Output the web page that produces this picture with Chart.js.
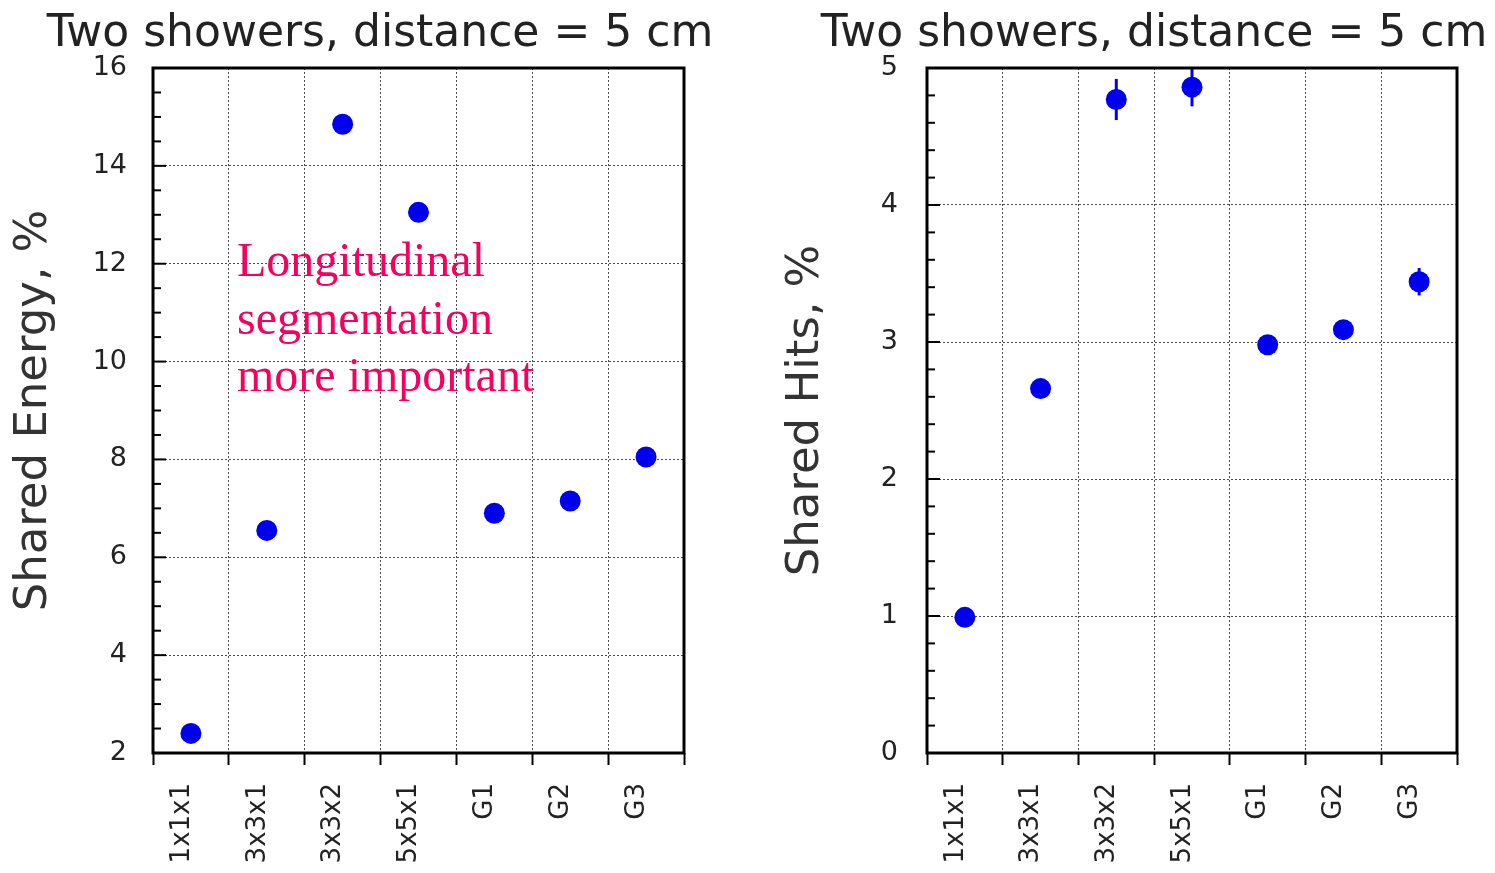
<!DOCTYPE html>
<html>
<head>
<meta charset="utf-8">
<script src="https://cdn.jsdelivr.net/npm/chart.js@4.4.0/dist/chart.umd.min.js"></script>
<style>
  html, body { margin: 0; padding: 0; background: #fff; overflow: hidden; }
  .panel { position: absolute; top: 0; height: 873px; }
  #left { left: 0; width: 760px; }
  #right { left: 775px; width: 758px; }
</style>
</head>
<body>
<div class="panel" id="left"><canvas id="energyChart" width="760" height="873"></canvas></div>
<div class="panel" id="right"><canvas id="hitsChart" width="758" height="873"></canvas></div>
<script>
const CATEGORIES = ['1x1x1', '3x3x1', '3x3x2', '5x5x1', 'G1', 'G2', 'G3']
const SHARED_ENERGY = [2.4, 6.55, 14.85, 13.05, 6.9, 7.15, 8.05]
const SHARED_HITS = [0.99, 2.66, 4.77, 4.86, 2.98, 3.09, 3.44]
const SHARED_HITS_ERR = [0.02, 0.04, 0.15, 0.14, 0.06, 0.06, 0.1]
const ENERGY_TICKS = [2, 4, 6, 8, 10, 12, 14, 16]
const HITS_TICKS = [0, 1, 2, 3, 4, 5]
const TITLE = 'Two showers, distance = 5 cm'
const NOTE_LINES = ['Longitudinal', 'segmentation', 'more important']

const SANS = '"DejaVu Sans", sans-serif'
const BLUE = '#0000ee'
const GRID = 'rgba(30, 30, 30, 0.8)'

// minor ticks pointing into the plot + the closed black frame
const frame = {
  id: 'frame',
  afterDraw(chart, args, opts) {
    const { ctx, chartArea: a, scales: { y } } = chart
    ctx.save()
    ctx.strokeStyle = '#000'
    ctx.lineWidth = 2
    const n = Math.round((y.max - y.min) / opts.minorStep)
    for (let i = 0; i <= n; i++) {
      const v = y.min + i * opts.minorStep
      const py = y.getPixelForValue(v)
      const major = i % opts.perMajor === 0
      ctx.beginPath()
      ctx.moveTo(a.left, py)
      ctx.lineTo(a.left + (major ? 13 : 8), py)
      ctx.stroke()
    }
    ctx.lineWidth = 3
    ctx.strokeRect(a.left, a.top, a.right - a.left, a.bottom - a.top)
    ctx.restore()
  },
}

const errorBars = {
  id: 'errorBars',
  beforeDatasetsDraw(chart, args, opts) {
    if (!opts.errors) return
    const { ctx, scales: { y } } = chart
    const meta = chart.getDatasetMeta(0)
    const values = chart.data.datasets[0].data
    ctx.save()
    ctx.strokeStyle = BLUE
    ctx.lineWidth = 3
    meta.data.forEach((pt, i) => {
      ctx.beginPath()
      ctx.moveTo(pt.x, y.getPixelForValue(values[i] + opts.errors[i]))
      ctx.lineTo(pt.x, y.getPixelForValue(values[i] - opts.errors[i]))
      ctx.stroke()
    })
    ctx.restore()
  },
}

const note = {
  id: 'note',
  afterDatasetsDraw(chart, args, opts) {
    if (!opts.lines) return
    const { ctx, chartArea: a } = chart
    ctx.save()
    ctx.fillStyle = '#f5005f'
    ctx.font = '48px "Liberation Serif", serif'
    ctx.textBaseline = 'alphabetic'
    opts.lines.forEach((line, i) => ctx.fillText(line, a.left + 84, a.top + 208 + i * 57.5))
    ctx.restore()
  },
}

const makeChart = (canvas, cfg) => new Chart(canvas, {
  type: 'line',
  data: {
    labels: CATEGORIES,
    datasets: [{
      data: cfg.values,
      showLine: false,
      pointRadius: 10.5,
      pointHoverRadius: 10.5,
      pointBorderWidth: 0,
      pointBackgroundColor: BLUE,
    }],
  },
  options: {
    responsive: false,
    animation: false,
    layout: { padding: 0 },
    plugins: {
      legend: { display: false },
      tooltip: { enabled: false },
      title: {
        display: true,
        text: TITLE,
        color: '#222',
        font: { family: SANS, size: 44, weight: 'normal', lineHeight: 1 },
        padding: { top: 13, bottom: 11 },
      },
      frame: { minorStep: cfg.minorStep, perMajor: cfg.perMajor },
      errorBars: { errors: cfg.errors },
      note: { lines: cfg.note },
    },
    scales: {
      x: {
        offset: true,
        grid: {
          offset: true,
          color: GRID,
          lineWidth: 1,
          borderDash: [2, 2],
          tickColor: '#000',
          tickWidth: 2,
          tickLength: 12,
          tickBorderDash: [],
        },
        border: { display: false, dash: [2, 2] },
        ticks: {
          color: '#222',
          font: { family: SANS, size: 26 },
          minRotation: 90,
          maxRotation: 90,
          padding: 18,
          labelOffset: -9,
          autoSkip: false,
        },
        afterFit: (scale) => { scale.height = 120 },
      },
      y: {
        min: cfg.ticks[0],
        max: cfg.ticks[cfg.ticks.length - 1],
        grid: { color: GRID, lineWidth: 1, borderDash: [2, 2], drawTicks: false },
        border: { display: false, dash: [2, 2] },
        ticks: {
          stepSize: cfg.ticks[1] - cfg.ticks[0],
          color: '#222',
          font: { family: SANS, size: 27 },
          padding: cfg.tickPad,
        },
        title: {
          display: true,
          text: cfg.yTitle,
          color: '#333',
          font: { family: SANS, size: 45, weight: 'normal', lineHeight: 1.2 },
          padding: { top: cfg.yTitlePad, bottom: 0 },
        },
        afterFit: (scale) => { scale.width = cfg.yWidth },
      },
      // empty right-hand axis keeps the title centred on the canvas
      pad: {
        position: 'right',
        grid: { display: false },
        border: { display: false },
        ticks: { display: false },
        afterFit: (scale) => { scale.width = 76 },
      },
    },
  },
  plugins: [frame, errorBars, note],
})

makeChart(document.getElementById('energyChart'), {
  values: SHARED_ENERGY,
  ticks: ENERGY_TICKS,
  minorStep: 0.5,
  perMajor: 4,
  yTitle: 'Shared Energy, %',
  yTitlePad: 7,
  yWidth: 153,
  tickPad: 26,
  note: NOTE_LINES,
})

makeChart(document.getElementById('hitsChart'), {
  values: SHARED_HITS,
  errors: SHARED_HITS_ERR,
  ticks: HITS_TICKS,
  minorStep: 0.2,
  perMajor: 5,
  yTitle: 'Shared Hits, %',
  yTitlePad: 4,
  yWidth: 152,
  tickPad: 29,
})
</script>
</body>
</html>
